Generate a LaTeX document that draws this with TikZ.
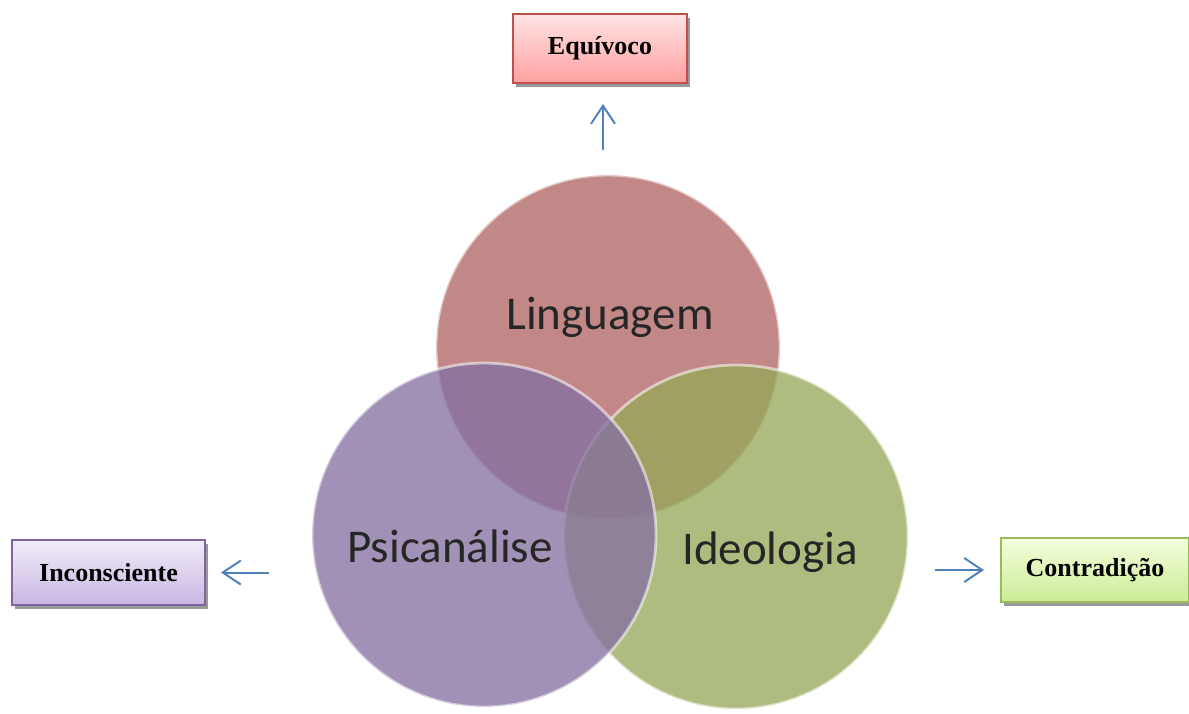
\documentclass[tikz,border=0pt]{standalone}
\usepackage{fontspec}
\setmainfont{Liberation Serif}
\newfontfamily\calibri{Carlito}
\usetikzlibrary{arrows.meta,shadows}

\definecolor{lingred}{RGB}{176,99,99}
\definecolor{psicviolet}{RGB}{133,112,161}
\definecolor{ideogreen}{RGB}{150,168,88}
\definecolor{linkblue}{RGB}{79,129,189}
\definecolor{equivline}{RGB}{192,80,77}
\definecolor{equivtop}{RGB}{255,228,228}
\definecolor{equivbot}{RGB}{255,160,160}
\definecolor{inconline}{RGB}{128,100,162}
\definecolor{incontop}{RGB}{242,236,250}
\definecolor{inconbot}{RGB}{200,182,226}
\definecolor{contrline}{RGB}{155,187,89}
\definecolor{contrtop}{RGB}{242,255,220}
\definecolor{contrbot}{RGB}{205,235,150}

\begin{document}
\begin{tikzpicture}[x=0.5pt, y=-0.5pt, >={Straight Barb[length=9pt,width=12pt]},
  ring/.style={circle, minimum size=172pt, inner sep=0pt, fill=#1, fill opacity=0.77,
    draw=white, draw opacity=0.55, line width=1.4pt},
  word/.style={font=\calibri\fontsize{23.5}{28}\selectfont, text=black!85, anchor=base},
  tag/.style={draw=#1line, top color=#1top, bottom color=#1bot, line width=1pt, inner sep=2pt,
    font=\bfseries\fontsize{13}{15}\selectfont,
    drop shadow={shadow xshift=1.5pt, shadow yshift=-2pt, fill=black!40, opacity=1}},
  link/.style={->, draw=linkblue, line width=1pt}]
\useasboundingbox (0,0) rectangle (1189,713);

% the three circles
\node[ring=lingred] (ling) at (608,347) {};
\node[ring=ideogreen] (ideo) at (736,537) {};
\node[ring=psicviolet] (psic) at (484,535) {};

\node[word] (lingtxt) at (610,329) {Linguagem};
\node[word] (psictxt) at (450,562) {Psicanálise};
\node[word] (ideotxt) at (770,564) {Ideologia};

% the boxes
\node[tag=equiv, minimum width=87pt, minimum height=34.5pt] (equiv) at (600,48.5) {Equívoco};
\node[tag=incon, minimum width=96.5pt, minimum height=32.5pt] (incon) at (108.5,572.5) {Inconsciente};
\node[tag=contr, minimum width=94pt, minimum height=32pt] (contr) at (1095,570) {Contradição};

% arrows
\draw[link, shorten <=12pt, shorten >=10pt] ([xshift=1.5pt]equiv.south |- ling.north) -- ([xshift=1.5pt]equiv.south);
\draw[link, shorten <=21pt, shorten >=7.5pt] (psic.west |- incon.east) -- (incon.east);
\draw[link, shorten <=13pt, shorten >=8pt] (ideo.east |- contr.west) -- (contr.west);
\end{tikzpicture}
\end{document}
